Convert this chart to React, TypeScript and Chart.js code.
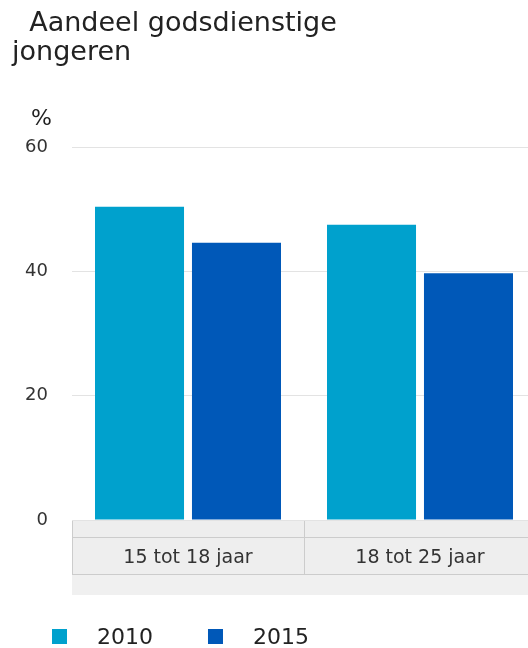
import React, { useEffect, useRef } from "react";
import { Chart, registerables } from "chart.js";

Chart.register(...registerables);

const titleLines = ["  Aandeel godsdienstige", "jongeren"];
const unitLabel = "%";
const categories = ["15 tot 18 jaar", "18 tot 25 jaar"];
const seriesNames = ["2010", "2015"];
const values2010 = [50.4, 47.5];
const values2015 = [44.6, 39.7];
const seriesColors = ["#00a1cd", "#0058b8"];
const yTicks = [0, 20, 40, 60];

const FONT = "'DejaVu Sans', Verdana, sans-serif";

const decorPlugin = {
  id: "decor",
  beforeDraw(chart: any) {
    const { ctx, chartArea } = chart;
    const x = chart.scales.x;
    const n = chart.data.labels.length;
    const w = (x.right - x.left) / n;
    const top = chartArea.bottom;
    ctx.save();
    // lower strip
    ctx.fillStyle = "#f0f0f0";
    ctx.fillRect(x.left, top + 55, x.right - x.left, 20);
    // box
    ctx.fillStyle = "#eeeeee";
    ctx.fillRect(x.left, top, x.right - x.left, 55);
    ctx.strokeStyle = "#cccccc";
    ctx.lineWidth = 1;
    ctx.beginPath();
    ctx.moveTo(x.left + 0.5, top + 0.5);
    ctx.lineTo(x.right, top + 0.5);
    ctx.moveTo(x.left, top + 17.5);
    ctx.lineTo(x.right, top + 17.5);
    ctx.moveTo(x.left, top + 54.5);
    ctx.lineTo(x.right, top + 54.5);
    for (let i = 0; i <= n; i++) {
      const px = Math.round(x.left + i * w) + 0.5;
      ctx.moveTo(px, top);
      ctx.lineTo(px, top + 55);
    }
    ctx.stroke();
    ctx.restore();
  },
  afterDraw(chart: any) {
    const { ctx, chartArea } = chart;
    ctx.save();
    // unit label
    ctx.font = `22px ${FONT}`;
    ctx.fillStyle = "#222";
    ctx.textAlign = "right";
    ctx.textBaseline = "alphabetic";
    ctx.fillText(unitLabel, chartArea.left - 20, 125);
    // legend
    ctx.textAlign = "left";
    let lx = 52;
    chart.data.datasets.forEach((ds: any) => {
      ctx.fillStyle = ds.backgroundColor;
      ctx.fillRect(lx, 629, 15, 15);
      ctx.fillStyle = "#222";
      ctx.font = `22px ${FONT}`;
      const tx = lx + 45;
      ctx.fillText(ds.label, tx, 644);
      lx = tx + ctx.measureText(ds.label).width + 55;
    });
    ctx.restore();
  },
};

export default function App() {
  const ref = useRef<HTMLCanvasElement | null>(null);

  useEffect(() => {
    document.body.style.margin = "0";
    Chart.defaults.font.family = FONT;
    const chart = new Chart(ref.current as HTMLCanvasElement, {
      type: "bar",
      data: {
        labels: categories,
        datasets: [
          { label: seriesNames[0], data: values2010, backgroundColor: seriesColors[0] },
          { label: seriesNames[1], data: values2015, backgroundColor: seriesColors[1] },
        ],
      },
      options: {
        responsive: false,
        animation: false,
        layout: { padding: { left: 12, right: 0, top: 0, bottom: 53 } },
        datasets: {
          bar: { barPercentage: 0.918, categoryPercentage: 0.836 },
        },
        plugins: {
          legend: { display: false },
          tooltip: { enabled: false },
          title: {
            display: true,
            text: titleLines,
            align: "start",
            color: "#222",
            font: { family: FONT, size: 27, weight: "normal", lineHeight: 29 / 27 },
            padding: { top: 9.5, bottom: 79.5 },
          },
        },
        scales: {
          x: {
            grid: { display: false },
            border: { display: false },
            ticks: { color: "#333", font: { size: 19 }, padding: 19 },
            afterFit: (s: any) => {
              s.height = 75;
            },
          },
          y: {
            min: 0,
            max: 60,
            grid: { color: "#e3e3e3", drawTicks: false },
            border: { display: false },
            afterBuildTicks: (s: any) => {
              s.ticks = yTicks.map((v) => ({ value: v }));
            },
            ticks: { color: "#333", font: { size: 18 }, padding: 24, stepSize: 20 },
            afterFit: (s: any) => {
              s.width = 60;
            },
          },
        },
      },
      plugins: [decorPlugin],
    });
    return () => chart.destroy();
  }, []);

  return (
    <div style={{ width: 528, height: 648, overflow: "hidden", background: "#fff" }}>
      <canvas ref={ref} width={536} height={648} style={{ display: "block" }} />
    </div>
  );
}
